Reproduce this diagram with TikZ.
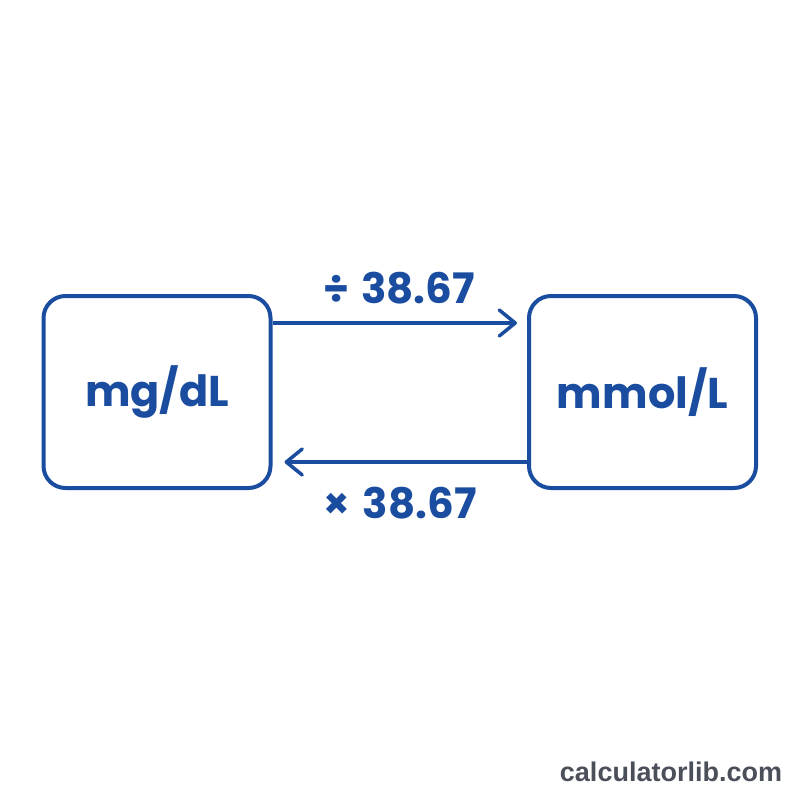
\documentclass[tikz,border=0pt]{standalone}
\usepackage{fontspec}
\setmainfont{Poppins}[UprightFont=* SemiBold,BoldFont=* Bold]
\newfontfamily\wmfont{Liberation Sans}[BoldFont=* Bold]
\usetikzlibrary{arrows.meta}
\definecolor{mainblue}{RGB}{26,77,160}
\definecolor{wmgray}{RGB}{74,79,90}
\tikzset{
  unitbox/.style={draw=mainblue, line width=4pt, rounded corners=22pt, fill=white,
    minimum width=227pt, minimum height=192pt, inner sep=0pt, text=mainblue,
    font=\fontsize{43}{50}\selectfont\bfseries},
  conv/.style={draw=mainblue, line width=3.5pt,
    -{Straight Barb[length=16pt,width=26pt,line width=3.5pt,line join=round,line cap=round]}},
  convlabel/.style={text=mainblue, inner sep=0pt, font=\fontsize{42}{48}\selectfont\bfseries},
  wm/.style={text=wmgray, inner sep=0pt, font=\wmfont\fontsize{27}{31}\selectfont\bfseries}
}
\begin{document}
\begin{tikzpicture}[x=1pt,y=-1pt]
\useasboundingbox[fill=white] (0,0) rectangle (800,800);
\node[unitbox] (mg) at (157,392) {mg/dL};
\node[unitbox] (mmol) at (642.5,392) {mmol/L};
\draw[conv] ([yshift=69pt]mg.east) -- ([xshift=-10pt,yshift=69pt]mmol.west);
\draw[conv] ([yshift=-70pt]mmol.west) -- ([xshift=12pt,yshift=-70pt]mg.east);
\node[convlabel] (div) at (399,288) {÷\hspace{0.3em}38.67};
\node[convlabel] (mul) at (400,503) {×\hspace{0.3em}38.67};
\node[wm] (site) at (671,772) {calculatorlib.com};
\end{tikzpicture}
\end{document}
